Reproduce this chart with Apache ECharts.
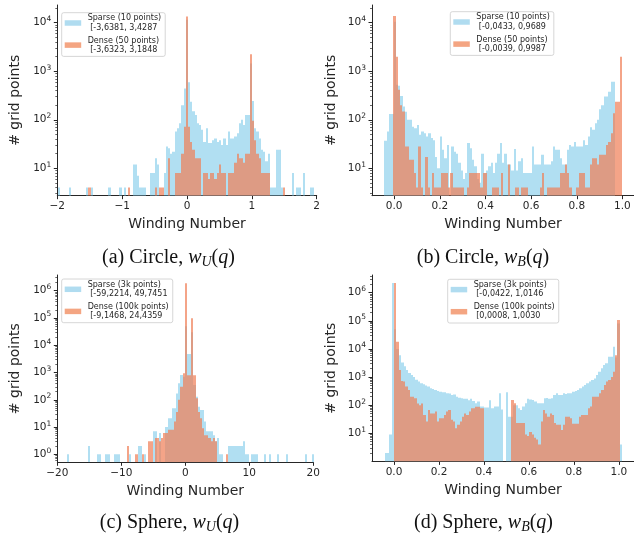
<!DOCTYPE html>
<html>
<head>
<meta charset="utf-8">
<script src="https://cdn.jsdelivr.net/npm/echarts@6/dist/echarts.min.js"></script>
<style>html,body{margin:0;padding:0;background:#fff}#c{width:634px;height:536px}</style>
</head>
<body>
<div id="c"></div>
<script>
// ---------------- DATA ----------------
// Panel (a) Circle, w_U(q): both series on the same bins
const binStartA = -2.0303, binWidthA = 0.034086;
const sparseA = [0,4,0,0,0,0,4,0,0,0, 0,0,0,0,4,0,4,0,0,0, 0,0,0,0,4,0,0,0,0,4,
  0,4,0,0,0,12,12,7,4,4, 4,0,0,8,8,16,12,0,0,8, 28,26,20,22,57,67,85,200,440,11500,
  590,235,150,125,85,78,62,35,67,33, 33,38,41,35,38,30,41,30,57,41, 41,45,53,85,100,78,125,125,1450,245,
  67,57,41,24,22,14,20,4,4,4, 24,24,4,0,0,0,0,8,0,4, 4,0,8,0,0,4,4,0];
const denseA = [0,0,0,0,0,0,0,0,0,0, 0,0,0,0,0,4,0,0,0,0, 0,0,0,0,0,0,0,0,0,0,
  0,0,0,4,0,0,0,0,0,0, 0,0,0,0,0,4,0,4,4,0, 0,16,0,0,8,8,8,20,72,13500,
  72,35,24,16,16,16,0,8,8,6, 8,8,6,8,12,8,8,0,8,8, 8,13,20,16,16,13,20,20,2240,95,
  38,20,16,8,8,8,8,0,0,0, 0,0,0,4,0,0,0,0,0,0, 0,0,0,0,0,0,0,0];

// Panel (b) Circle, w_B(q)
const sparseStartB = -0.0433, sparseWidthB = 0.010122;
const denseStartB = -0.0039, denseWidthB = 0.010026;
const sparseB = [37,57,132,132,10500,525,500,310,187,147, 100,100,72,67,78,49,57,53,45,53,
  42,38,17,10,45,24,16,30,0,28, 22,20,13,9,6,8,33,26,15,11, 6,5,20,8,9,11,13,8,13,20,
  33,13,20,12,12,9,25,9,14,16, 8,8,8,8,28,12,12,12,19,12, 12,12,14,28,24,24,16,12,12,24,
  30,28,35,28,28,28,38,30,45,70, 62,85,100,165,200,300,300,380,610,610];
const denseB = [13800,2000,415,200,148,28,28,15,15,8, 4,28,4,0,17,4,0,8,4,4,
  4,8,8,8,4,8,4,4,4,4, 4,0,4,8,8,8,8,8,4,8, 8,0,0,4,4,4,0,8,0,0,
  12,0,0,4,4,0,4,4,4,0, 0,0,0,0,4,8,0,4,4,4, 4,4,4,8,8,12,8,4,0,0,
  4,8,8,8,4,4,12,16,16,12, 19,19,19,30,35,53,136,235,235,2000];

// Panel (c) Sphere, w_U(q): both series on the same bins
const binStartC = -20.2292, binWidthC = 0.33583;
const sparseC = [0,0,0,0,0,1,0,0,0,0, 0,0,0,0,0,2,0,0,0,1, 1,0,0,1,1,0,0,1,1,1,
  0,0,0,0,1,0,0,0,2,2, 0,1,0,0,0,7,7,0,6,0, 0,10,21,21,49,49,170,400,810,700,
  50000,4800,4800,30000,350,130,56,42,42,16, 7,7,7,5,3,4,1,1,0,0, 2,2,2,2,2,2,2,3,1,1,
  0,1,1,1,0,0,0,1,0,1, 0,0,0,1,0,0,0,1,0,0, 0,0,0,0,0,0,1,0,0,1];
const denseC = [0,0,0,0,0,0,0,0,0,0, 0,0,0,0,0,0,0,0,0,0, 0,0,0,0,0,0,0,0,0,0,
  0,0,0,2,0,0,0,1,0,0, 1,0,0,3,3,0,4,4,3,4, 6,6,8,8,8,16,36,100,300,930,
  1860000,800,800,97000,800,113,36,21,9,5, 5,4,3,4,3,0,0,0,0,1, 0,0,0,0,0,0,0,0,0,0,
  0,0,0,0,0,0,0,0,0,0, 0,0,0,0,0,0,0,0,0,0, 0,0,0,0,0,0,0,0,0,0];

// Panel (d) Sphere, w_B(q)
const sparseStartD = -0.0422, sparseWidthD = 0.010568;
const denseStartD = 0.0008, denseWidthD = 0.010022;
const sparseD = [2,2,9,2200000,50000,10000,6000,3300,2400,1800, 1400,1180,1000,800,700,600,550,500,460,400,
  380,350,320,300,290,290,265,260,230,240, 200,185,175,170,170,150,170,140,116,135,
  90,90,82,82,150,77,90,90,265,70, 0,290,39,39,100,100,77,68,89,116,
  170,160,152,135,116,116,116,175,180,170, 175,230,265,230,230,265,250,265,265,300,
  320,350,400,460,520,600,690,790,890,1180, 1550,2050,2700,3100,5300,5300,12000,5000,81000,4];
const denseD = [2200000,18000,1800,720,700,460,350,200,200,175, 115,100,115,45,26,68,51,51,59,26,
  34,34,45,59,68,30,26,15,20,26, 39,51,45,59,77,77,88,88,77,77,
  0,0,0,0,0,0,0,0,0,0, 0,0,152,116,23,23,23,23,9,8,
  11,9,7,6,4,26,68,51,39,51, 45,23,20,20,13,20,39,39,34,22,
  22,22,39,45,45,45,77,89,200,200, 200,265,350,520,690,790,1000,1550,6000,107000];

// Tick labels
const xTicksA = [-2, -1, 0, 1, 2];
const xTicksB = [0, 0.2, 0.4, 0.6, 0.8, 1.0];
const xTicksC = [-20, -10, 0, 10, 20];
const xTicksD = [0, 0.2, 0.4, 0.6, 0.8, 1.0];
const yTicksA = [10, 100, 1000, 10000];
const yTicksB = [10, 100, 1000, 10000];
const yTicksC = [1, 10, 100, 1000, 10000, 100000, 1000000];
const yTicksD = [10, 100, 1000, 10000, 100000, 1000000];

// Legend texts and captions
const legendA = ['Sparse (10 points)\n [-3,6381, 3,4287', 'Dense (50 points)\n [-3,6323, 3,1848'];
const legendB = ['Sparse (10 points)\n [-0,0433, 0,9689', 'Dense (50 points)\n [-0,0039, 0,9987'];
const legendC = ['Sparse (3k points)\n [-59,2214, 49,7451', 'Dense (100k points)\n [-9,1468, 24,4359'];
const legendD = ['Sparse (3k points)\n [-0,0422, 1,0146', 'Dense (100k points)\n [0,0008, 1,0030'];
const xName = 'Winding Number';
const yName = '# grid points';

// ---------------- CHART ----------------
const FONT = 'DejaVu Sans';
const INK = '#262626';
const SPARSE_FILL = 'rgba(135,206,235,0.65)';
const DENSE_FILL = 'rgba(240,125,85,0.7)';
const SPARSE_PATCH = '#b0dcf0';
const DENSE_PATCH = '#f4a582';

const chart = echarts.init(document.getElementById('c'), null, {renderer: 'canvas'});

function hist(name, idx, start, width, counts, fill) {
  const data = [];
  counts.forEach((c, i) => { if (c > 0) data.push([start + i * width, start + (i + 1) * width, c]); });
  return {
    type: 'custom', name, xAxisIndex: idx, yAxisIndex: idx, clip: true, silent: true,
    itemStyle: {color: fill},
    encode: {x: [0, 1], y: 2},
    data,
    renderItem(params, api) {
      const v = api.value(2);
      const p0 = api.coord([api.value(0), v]);
      const p1 = api.coord([api.value(1), v]);
      const cs = params.coordSys;
      const bottom = cs.y + cs.height;
      const x0 = Math.round(p0[0]);
      let x1 = Math.round(p1[0]);
      if (x1 <= x0) x1 = x0 + 1;
      return {
        type: 'rect',
        shape: {x: x0, y: p0[1], width: x1 - x0, height: bottom - p0[1]},
        style: {fill}
      };
    }
  };
}

function fmtX(v, dec) {
  const s = Math.abs(v).toFixed(dec);
  return (v < -1e-9 ? '\u2212' : '') + s;
}

function xAxis(idx, min, max, ticks, dec) {
  return {
    type: 'value', gridIndex: idx, min, max, position: 'bottom',
    name: xName, nameLocation: 'middle', nameGap: 22,
    nameTextStyle: {fontFamily: FONT, fontSize: 14, color: INK},
    axisLine: {show: true, onZero: false, lineStyle: {color: INK, width: 1}},
    axisTick: {show: true, length: 3.5, customValues: ticks, lineStyle: {color: INK, width: 1}},
    axisLabel: {customValues: ticks, margin: 5, fontFamily: FONT, fontSize: 10.5, color: INK,
      formatter: v => fmtX(v, dec)},
    splitLine: {show: false}
  };
}

function yAxis(idx, min, max, ticks, gap) {
  return {
    type: 'log', logBase: 10, gridIndex: idx, min, max, position: 'left',
    name: yName, nameLocation: 'middle', nameGap: gap,
    nameTextStyle: {fontFamily: FONT, fontSize: 14, color: INK},
    axisLine: {show: true, onZero: false, lineStyle: {color: INK, width: 1}},
    axisTick: {show: true, length: 3.5, customValues: ticks, lineStyle: {color: INK, width: 1}},
    axisLabel: {customValues: ticks, margin: 6, fontFamily: FONT, color: INK,
      formatter: v => '{b|10}{s|' + Math.round(Math.log10(v)) + '}',
      rich: {b: {fontFamily: FONT, fontSize: 10.5, color: INK},
             s: {fontFamily: FONT, fontSize: 7.5, color: INK, padding: [0, 0, 7, 0]}}},
    splitLine: {show: false}
  };
}

// minor log ticks (2..9 per decade) on an overlaid tick-only axis
function minorValues(min, max) {
  const out = [];
  for (let e = Math.floor(Math.log10(min)); e <= Math.ceil(Math.log10(max)); e++) {
    for (let m = 2; m <= 9; m++) {
      const v = m * Math.pow(10, e);
      if (v > min && v < max) out.push(v);
    }
  }
  return out;
}
function yMinorAxis(idx, min, max) {
  return {
    type: 'log', logBase: 10, gridIndex: idx, min, max, position: 'left', offset: 0,
    axisLine: {show: false, onZero: false},
    axisTick: {show: true, length: 2, customValues: minorValues(min, max), lineStyle: {color: INK, width: 0.7}},
    axisLabel: {show: false},
    splitLine: {show: false}
  };
}

function legend(left, top, names) {
  return {
    left, top, orient: 'vertical', selectedMode: false, icon: 'rect',
    itemWidth: 16.5, itemHeight: 5.5, itemGap: 3.5,
    padding: [1, 4, 2, 3], borderColor: '#cccccc', borderWidth: 0.8, borderRadius: 2,
    backgroundColor: 'rgba(255,255,255,0.8)',
    textStyle: {fontFamily: FONT, fontSize: 8, lineHeight: 9.3, color: INK, padding: [0, 0, 0, 1.5]},
    data: [{name: names[0], itemStyle: {color: SPARSE_PATCH}}, {name: names[1], itemStyle: {color: DENSE_PATCH}}]
  };
}

function caption(x, y, letter, shape, sub) {
  return {
    type: 'text', x, y, silent: true,
    style: {
      text: '(' + letter + ') ' + shape + ', {i|w}{s|' + sub + '}({i|q})',
      fontFamily: 'Liberation Serif', fontSize: 20, fill: '#111',
      align: 'center', verticalAlign: 'middle',
      rich: {
        i: {fontFamily: 'Liberation Serif', fontStyle: 'italic', fontSize: 20, color: '#111'},
        s: {fontFamily: 'Liberation Serif', fontStyle: 'italic', fontSize: 14, color: '#111', padding: [9, 0, 0, 0]}
      }
    }
  };
}

const yRanges = [[2.72, 23200], [2.72, 23200], [0.51, 3760000], [1, 4270000]];

const option = {
  animation: false,
  backgroundColor: '#fff',
  grid: [
    {left: 57.3, top: 5, width: 259.4, height: 190.7},
    {left: 372, top: 5, width: 263.4, height: 190.7},
    {left: 57.3, top: 275, width: 256, height: 187.3},
    {left: 372, top: 275, width: 264.3, height: 186.4}
  ],
  xAxis: [
    xAxis(0, -2, 2, xTicksA, 0),
    xAxis(1, -0.0972, 1.0508, xTicksB, 1),
    xAxis(2, -20, 20, xTicksC, 0),
    xAxis(3, -0.0979, 1.0674, xTicksD, 1)
  ],
  yAxis: [
    yAxis(0, yRanges[0][0], yRanges[0][1], yTicksA, 35),
    yAxis(1, yRanges[1][0], yRanges[1][1], yTicksB, 34),
    yAxis(2, yRanges[2][0], yRanges[2][1], yTicksC, 35),
    yAxis(3, yRanges[3][0], yRanges[3][1], yTicksD, 34),
    yMinorAxis(0, yRanges[0][0], yRanges[0][1]),
    yMinorAxis(1, yRanges[1][0], yRanges[1][1]),
    yMinorAxis(2, yRanges[2][0], yRanges[2][1]),
    yMinorAxis(3, yRanges[3][0], yRanges[3][1])
  ],
  legend: [
    legend(61.7, 12.7, legendA),
    legend(450.3, 11.7, legendB),
    legend(61.7, 279, legendC),
    legend(447.7, 279.3, legendD)
  ],
  series: [
    hist(legendA[0], 0, binStartA, binWidthA, sparseA, SPARSE_FILL),
    hist(legendA[1], 0, binStartA, binWidthA, denseA, DENSE_FILL),
    hist(legendB[0], 1, sparseStartB, sparseWidthB, sparseB, SPARSE_FILL),
    hist(legendB[1], 1, denseStartB, denseWidthB, denseB, DENSE_FILL),
    hist(legendC[0], 2, binStartC, binWidthC, sparseC, SPARSE_FILL),
    hist(legendC[1], 2, binStartC, binWidthC, denseC, DENSE_FILL),
    hist(legendD[0], 3, sparseStartD, sparseWidthD, sparseD, SPARSE_FILL),
    hist(legendD[1], 3, denseStartD, denseWidthD, denseD, DENSE_FILL)
  ],
  graphic: [
    caption(168.5, 258, 'a', 'Circle', 'U'),
    caption(483, 258, 'b', 'Circle', 'B'),
    caption(169.5, 523, 'c', 'Sphere', 'U'),
    caption(483.5, 523, 'd', 'Sphere', 'B')
  ]
};
chart.setOption(option);
</script>
</body>
</html>
